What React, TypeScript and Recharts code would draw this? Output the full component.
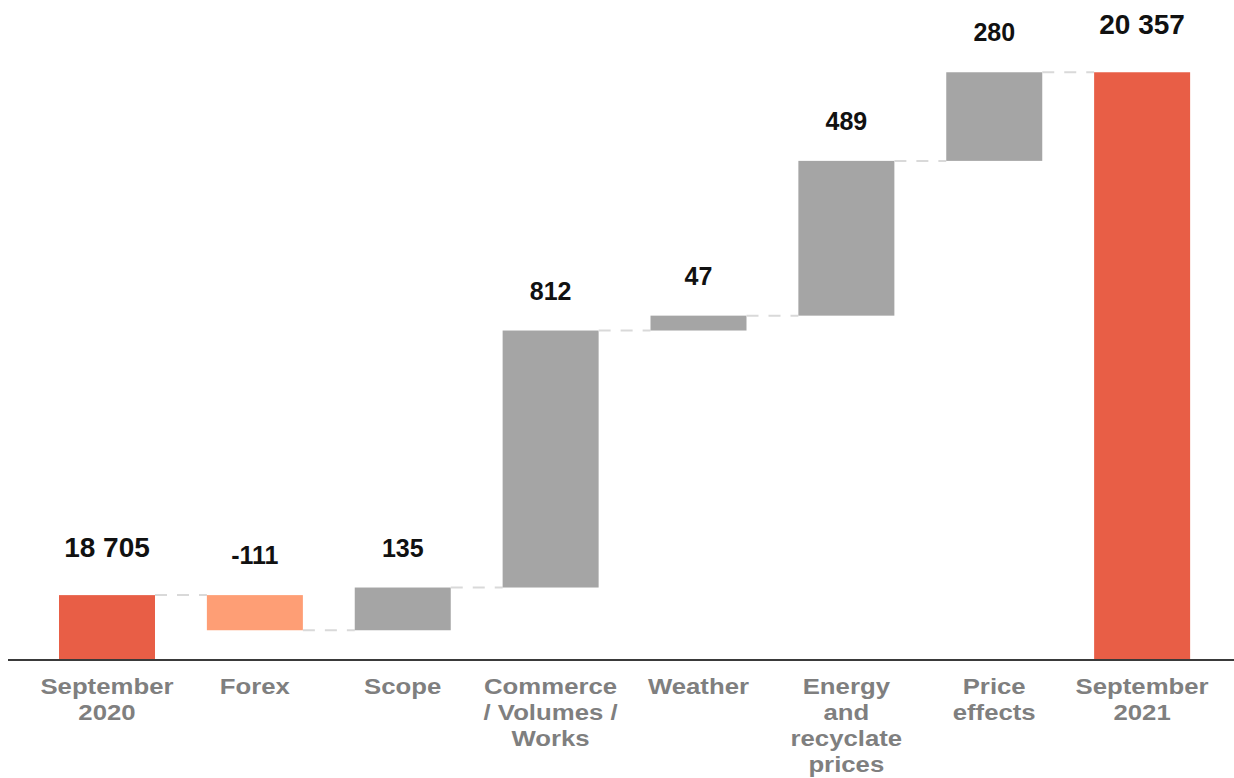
import { BarChart, Bar, XAxis, YAxis, LabelList } from "recharts";

// waterfall: opening total, movements, closing total
const categories = [
  "September 2020",
  "Forex",
  "Scope",
  "Commerce / Volumes / Works",
  "Weather",
  "Energy and recyclate prices",
  "Price effects",
  "September 2021",
];
const tickLines = [
  ["September", "2020"],
  ["Forex"],
  ["Scope"],
  ["Commerce", "/ Volumes /", "Works"],
  ["Weather"],
  ["Energy", "and", "recyclate", "prices"],
  ["Price", "effects"],
  ["September", "2021"],
];
const openingTotal = 18705;
const movements = [-111, 135, 812, 47, 489, 280];
const closingTotal = 20357;

const AXIS_MIN = 18500;
const AXIS_MAX = 20500;

const CHART_W = 1234;
const CHART_H = 778;
const MARGIN_L = 8;
const PAD_L = 25;
const PAD_R = 18;
const BAR_W = 96;
const STEP = (CHART_W - MARGIN_L - PAD_L - PAD_R) / categories.length;
const GAP = STEP - BAR_W;

const RED = "#E85E46";
const SALMON = "#FE9E75";
const GREY = "#A5A5A5";
const FONT = "'Liberation Sans', Arial, sans-serif";

type Row = {
  name: string;
  range: [number, number];
  delta: number;
  isTotal: boolean;
  label: string;
  fill: string;
  last: boolean;
};

const fmt = (n: number) => String(n).replace(/\B(?=(\d{3})+(?!\d))/g, " ");

const rows: Row[] = (() => {
  const out: Row[] = [];
  out.push({
    name: categories[0],
    range: [AXIS_MIN, openingTotal],
    delta: openingTotal,
    isTotal: true,
    label: fmt(openingTotal),
    fill: RED,
    last: false,
  });
  let run = openingTotal;
  movements.forEach((d, i) => {
    const next = run + d;
    out.push({
      name: categories[i + 1],
      range: [Math.min(run, next), Math.max(run, next)],
      delta: d,
      isTotal: false,
      label: fmt(d),
      fill: d < 0 ? SALMON : GREY,
      last: false,
    });
    run = next;
  });
  out.push({
    name: categories[categories.length - 1],
    range: [AXIS_MIN, closingTotal],
    delta: closingTotal,
    isTotal: true,
    label: fmt(closingTotal),
    fill: RED,
    last: true,
  });
  return out;
})();

const StepBar = (props: any) => {
  const { x, y, width, height, index } = props;
  const row = rows[index];
  const top = Math.min(y, y + height);
  const h = Math.abs(height);
  const level = row.delta < 0 ? top + h : top;
  return (
    <g>
      <rect x={x} y={top} width={width} height={h} fill={row.fill} />
      {!row.last && (
        <line
          x1={x + width}
          x2={x + width + GAP}
          y1={level}
          y2={level}
          stroke="#D9D9D9"
          strokeWidth={2}
          strokeDasharray="12 10"
        />
      )}
    </g>
  );
};

const ValueLabel = (props: any) => {
  const { x, y, width, height, index } = props;
  const row = rows[index];
  const top = Math.min(y, y + height);
  return (
    <text
      x={x + width / 2}
      y={top - (row.isTotal ? 38 : 31)}
      textAnchor="middle"
      fontFamily={FONT}
      fontWeight="bold"
      fontSize={row.isTotal ? 28 : 25}
      fill="#111"
    >
      {row.label}
    </text>
  );
};

// category names are set a little wide
const CategoryTick = (props: any) => {
  const { x, y, index } = props;
  const lines = tickLines[index] ?? [];
  return (
    <g transform={`translate(${x},${y}) scale(1.12,1)`}>
      <text
        x={0}
        y={0}
        textAnchor="middle"
        fontFamily={FONT}
        fontWeight="bold"
        fontSize={23}
        fill="#7F7F7F"
      >
        {lines.map((l, i) => (
          <tspan key={i} x={0} dy={i === 0 ? 26 : 26}>
            {l}
          </tspan>
        ))}
      </text>
    </g>
  );
};

export default function App() {
  return (
    <div style={{ position: "absolute", left: 0, top: 0 }}>
      <BarChart
        width={CHART_W}
        height={CHART_H}
        data={rows}
        margin={{ top: 27, right: 0, bottom: 0, left: MARGIN_L }}
        barSize={BAR_W}
      >
        <XAxis
          dataKey="name"
          interval={0}
          tickLine={false}
          axisLine={{ stroke: "#3A3A3A", strokeWidth: 2 }}
          padding={{ left: PAD_L, right: PAD_R }}
          height={118}
          tick={<CategoryTick />}
        />
        <YAxis hide domain={[AXIS_MIN, AXIS_MAX]} />
        <Bar dataKey="range" shape={<StepBar />} isAnimationActive={false}>
          <LabelList dataKey="label" content={<ValueLabel />} />
        </Bar>
      </BarChart>
    </div>
  );
}
